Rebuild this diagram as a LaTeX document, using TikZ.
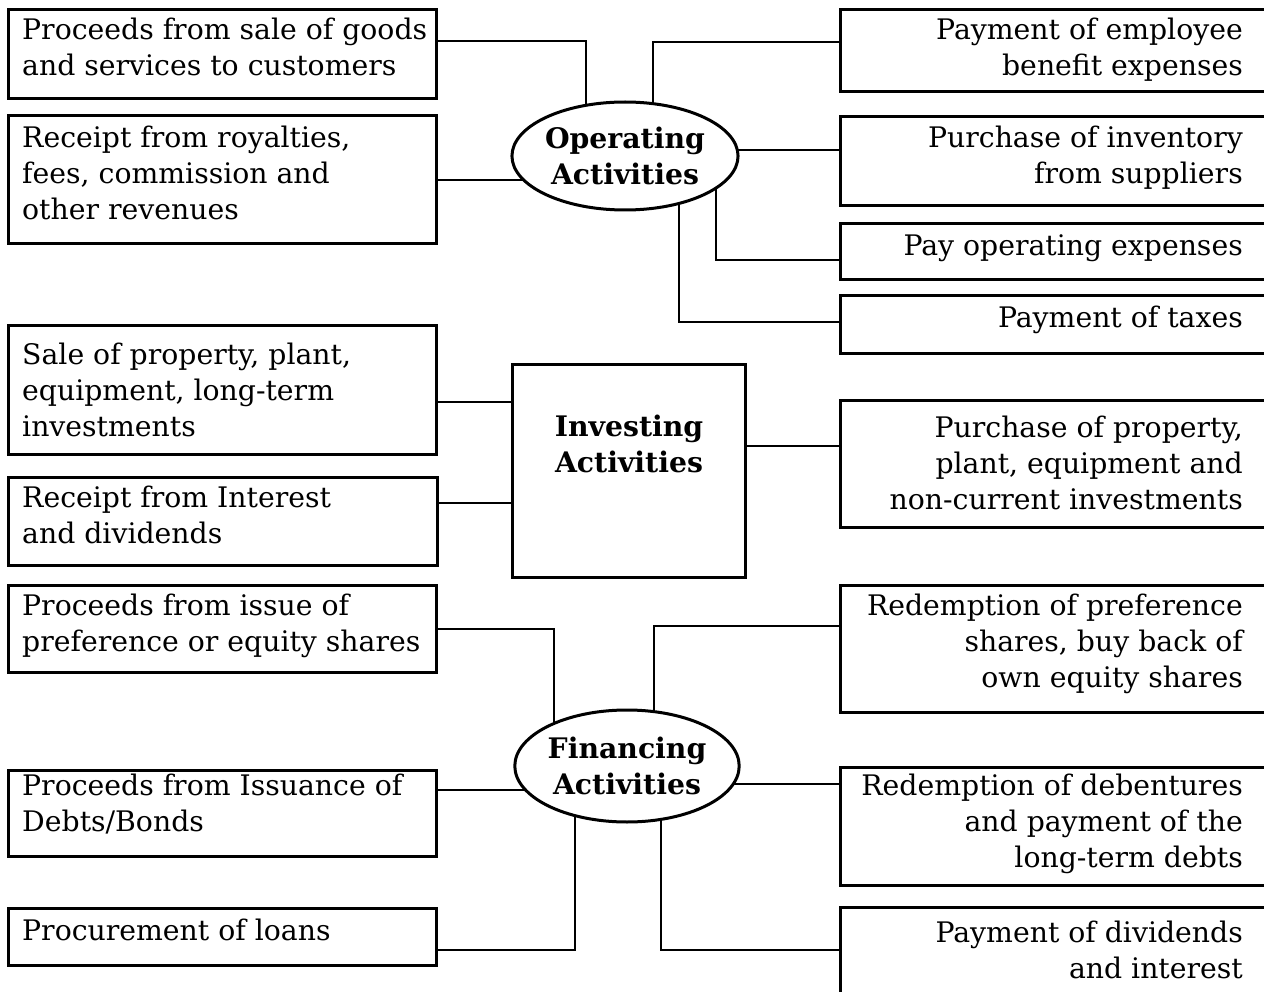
\documentclass[tikz,border=0pt]{standalone}
\usepackage{fontspec}
\setmainfont{DejaVu Serif}
\usetikzlibrary{shapes.geometric,backgrounds}
\begin{document}
\begin{tikzpicture}[x=1pt,y=-1pt,
  box/.style={draw,line width=3pt,rectangle,inner sep=0pt,fill=white},
  lbox/.style={box,minimum width=428pt},
  rbox/.style={box,minimum width=428pt},
  ltxt/.style={anchor=west,inner sep=0pt,align=left,font=\fontsize{28.3}{36}\selectfont},
  rtxt/.style={anchor=east,inner sep=0pt,align=right,font=\fontsize{28.3}{36}\selectfont},
  hub/.style={draw,line width=3pt,ellipse,inner sep=0pt,fill=white,align=center,font=\bfseries\fontsize{28.3}{36}\selectfont},
  conn/.style={line width=2.6pt}]
\useasboundingbox (0,0) rectangle (1264,992);
% left boxes
\node[lbox,minimum height=89pt] (L1) at (222,54.5) {};
\node[lbox,minimum height=128pt] (L2) at (222,180) {};
\node[lbox,minimum height=128pt] (L3) at (222,390) {};
\node[lbox,minimum height=88pt,minimum width=429pt] (L4) at (222.5,521) {};
\node[lbox,minimum height=87pt] (L5) at (222,628.5) {};
\node[lbox,minimum height=86pt] (L6) at (222,813) {};
\node[lbox,minimum height=57pt] (L7) at (222,936.5) {};
\node[ltxt] (tL1) at (22,47) {Proceeds from sale of goods\\and services to customers};
\node[ltxt] (tL2) at (22,173) {Receipt from royalties,\\fees, commission and\\other revenues};
\node[ltxt] (tL3) at (22,390) {Sale of property, plant,\\equipment, long-term\\investments};
\node[ltxt] (tL4) at (22,515) {Receipt from Interest\\and dividends};
\node[ltxt] (tL5) at (22,626) {Proceeds from issue of\\preference or equity shares};
\node[ltxt] (tL6) at (22,804) {Proceeds from Issuance of\\Debts/Bonds};
\node[ltxt] (tL7) at (22,930) {Procurement of loans};
% right boxes
\node[rbox,minimum height=82pt] (R1) at (1054,51) {};
\node[rbox,minimum height=89pt] (R2) at (1054,161.5) {};
\node[rbox,minimum height=56pt] (R3) at (1054,252) {};
\node[rbox,minimum height=58pt] (R4) at (1054,325) {};
\node[rbox,minimum height=127pt] (R5) at (1054,463.5) {};
\node[rbox,minimum height=127pt] (R6) at (1054,648.5) {};
\node[rbox,minimum height=118pt] (R7) at (1054,826) {};
\node[rbox,minimum height=100pt] (R8) at (1054,957) {};
\node[rtxt] (tR1) at (1243,50) {Payment of employee\\benefit expenses};
\node[rtxt] (tR2) at (1243,158) {Purchase of inventory\\from suppliers};
\node[rtxt] (tR3) at (1243,248) {Pay operating expenses};
\node[rtxt] (tR4) at (1243,320) {Payment of taxes};
\node[rtxt] (tR5) at (1243,463) {Purchase of property,\\plant, equipment and\\non-current investments};
\node[rtxt] (tR6) at (1243,644) {Redemption of preference\\shares, buy back of\\own equity shares};
\node[rtxt] (tR7) at (1243,824) {Redemption of debentures\\and payment of the\\long-term debts};
\node[rtxt] (tR8) at (1243,950) {Payment of dividends\\and interest};
% hubs
\node[hub,minimum width=220pt,minimum height=108pt] (op) at (625,156) {Operating\\Activities};
\node[box,minimum width=233pt,minimum height=213pt] (inv) at (628.5,470.5) {};
\node[inner sep=0pt,align=center,font=\bfseries\fontsize{28.3}{36}\selectfont] (tinv) at (629,444) {Investing\\Activities};
\node[hub,minimum width=221pt,minimum height=112pt] (fin) at (627,766) {Financing\\Activities};
% junction coordinates
\coordinate (j1) at (586,41);
\coordinate (j2) at (653,42);
\coordinate (j3) at (0,180);
\coordinate (j4) at (0,150);
\coordinate (j5) at (716,260);
\coordinate (j6) at (679,322);
\coordinate (j7) at (0,402);
\coordinate (j8) at (0,503);
\coordinate (j9) at (0,446);
\coordinate (j10) at (554,629);
\coordinate (j11) at (654,626);
\coordinate (j12) at (0,790);
\coordinate (j13) at (0,784);
\coordinate (j14) at (575,950);
\coordinate (j15) at (661,950);
\begin{scope}[on background layer]
\draw[conn] (L1.east |- j1) -- (j1) -- (j1 |- op.center);
\draw[conn] (j2 |- op.center) -- (j2) -- (R1.west |- j2);
\draw[conn] (L2.east |- j3) -- (op.center |- j3);
\draw[conn] (op.center |- j4) -- (R2.west |- j4);
\draw[conn] (j5 |- op.center) -- (j5) -- (R3.west |- j5);
\draw[conn] (j6 |- op.center) -- (j6) -- (R4.west |- j6);
\draw[conn] (L3.east |- j7) -- (inv.center |- j7);
\draw[conn] (L4.east |- j8) -- (inv.center |- j8);
\draw[conn] (inv.center |- j9) -- (R5.west |- j9);
\draw[conn] (L5.east |- j10) -- (j10) -- (j10 |- fin.center);
\draw[conn] (j11 |- fin.center) -- (j11) -- (R6.west |- j11);
\draw[conn] (L6.east |- j12) -- (fin.center |- j12);
\draw[conn] (fin.center |- j13) -- (R7.west |- j13);
\draw[conn] (L7.east |- j14) -- (j14) -- (j14 |- fin.center);
\draw[conn] (j15 |- fin.center) -- (j15) -- (R8.west |- j15);
\end{scope}
\end{tikzpicture}
\end{document}
